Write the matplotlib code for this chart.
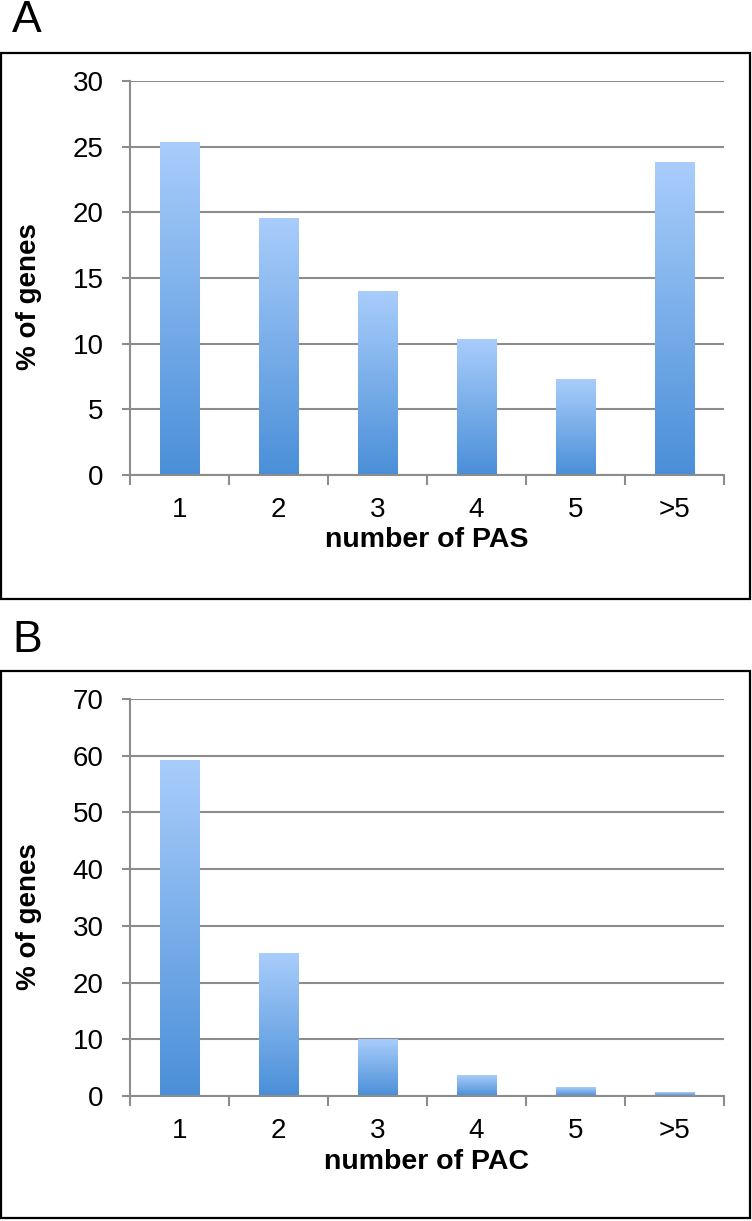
import matplotlib
matplotlib.use('Agg')
import matplotlib.pyplot as plt
import numpy as np
from matplotlib.patches import Rectangle
from matplotlib.colors import LinearSegmentedColormap

categories = ['1', '2', '3', '4', '5', '>5']
pas_values = [25.3, 19.5, 14.0, 10.3, 7.3, 23.8]
pac_values = [59.2, 25.2, 9.9, 3.6, 1.5, 0.7]
pas_yticks = [0, 5, 10, 15, 20, 25, 30]
pac_yticks = [0, 10, 20, 30, 40, 50, 60, 70]
ylabel = '% of genes'
xlabel_a = 'number of PAS'
xlabel_b = 'number of PAC'

plt.rcParams['font.family'] = ['Liberation Sans', 'DejaVu Sans']

W, H = 752, 1221
fig = plt.figure(figsize=(W / 100, H / 100), dpi=100)

GRAY = '#8c8c8c'
cmap = LinearSegmentedColormap.from_list('bar', ['#4a8fd8', '#a9cdfb'])


def px_axes(left, top, right, bottom):
    return fig.add_axes([left / W, 1 - bottom / H, (right - left) / W, (bottom - top) / H])


def panel(ax, values, yticks):
    n = len(values)
    xs = np.arange(n) + 0.5
    bars = ax.bar(xs, values, width=0.4, color='none', edgecolor='none', zorder=3)
    grad = np.linspace(0, 1, 256).reshape(-1, 1)
    for b in bars:
        x0 = b.get_x()
        x1 = x0 + b.get_width()
        h = b.get_height()
        ax.imshow(grad, cmap=cmap, origin='lower', aspect='auto',
                  extent=(x0, x1, 0, h), zorder=3, interpolation='bilinear')
    ax.set_xlim(0, n)
    ax.set_ylim(yticks[0], yticks[-1])
    ax.set_yticks(yticks)
    ax.set_yticklabels([str(t) for t in yticks])
    ax.set_xticks(np.arange(n + 1))
    ax.set_xticklabels([])
    ax.set_xticks(xs, minor=True)
    ax.set_xticklabels(categories, minor=True)
    ax.tick_params(axis='x', which='major', direction='out', length=7, width=1.5, color=GRAY)
    ax.tick_params(axis='x', which='minor', length=0, pad=16, labelsize=20)
    ax.tick_params(axis='y', direction='out', length=6, width=1.5, color=GRAY, pad=13, labelsize=20)
    ax.grid(axis='y', color=GRAY, linewidth=1.5, zorder=1)
    ax.set_axisbelow(True)
    for s in ['top', 'right']:
        ax.spines[s].set_visible(False)
    for s in ['left', 'bottom']:
        ax.spines[s].set_color(GRAY)
        ax.spines[s].set_linewidth(1.5)
        ax.spines[s].set_zorder(4)


def box(left, top, right, bottom):
    fig.patches.append(Rectangle((left / W, 1 - bottom / H), (right - left) / W, (bottom - top) / H,
                                 transform=fig.transFigure, fill=False, edgecolor='black', linewidth=1.6))


# Panel A
box(1.5, 53, 750, 599)
axA = px_axes(130, 81, 724, 475)
panel(axA, pas_values, pas_yticks)
fig.text(29 / W, 1 - 297 / H, ylabel, rotation=90, ha='center', va='center', fontsize=20, fontweight='bold')
fig.text(427 / W, 1 - 540 / H, xlabel_a, ha='center', va='center', fontsize=20.5, fontweight='bold')
fig.text(12 / W, 1 - 21 / H, 'A', ha='left', va='center', fontsize=32)

# Panel B
box(1.5, 671, 750, 1218)
axB = px_axes(130, 699, 724, 1096)
panel(axB, pac_values, pac_yticks)
fig.text(29 / W, 1 - 917 / H, ylabel, rotation=90, ha='center', va='center', fontsize=20, fontweight='bold')
fig.text(427 / W, 1 - 1162 / H, xlabel_b, ha='center', va='center', fontsize=20.5, fontweight='bold')
fig.text(12 / W, 1 - 641 / H, 'B', ha='left', va='center', fontsize=32)

fig.savefig('out.png', dpi=100)
